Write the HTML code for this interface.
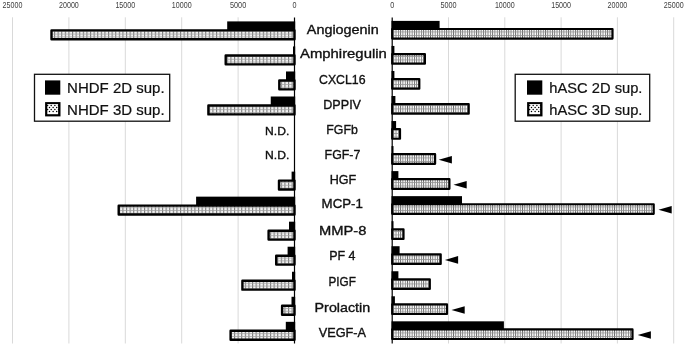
<!DOCTYPE html>
<html><head><meta charset="utf-8"><title>chart</title>
<style>
html,body{margin:0;padding:0;background:#fff;}
svg{display:block;}
text{font-family:"Liberation Sans",sans-serif;stroke:#111;stroke-width:0.35px;}
text.lg{stroke-width:0.22px;}
text.t{stroke:none;}
</style></head><body>
<svg width="685" height="346" viewBox="0 0 685 346">
<defs>
<pattern id="pl" width="3.6" height="2.8" patternUnits="userSpaceOnUse">
<rect width="3.6" height="2.8" fill="#f2f2f2"/>
<rect x="0" y="0" width="1.1" height="2.8" fill="#7a7a7a"/>
<rect x="0" y="0" width="3.6" height="0.7" fill="#a0a0a0"/>
</pattern>
<pattern id="pr" width="2.3" height="3.5" patternUnits="userSpaceOnUse">
<rect width="2.3" height="3.5" fill="#fafafa"/>
<rect x="0" y="0" width="0.85" height="3.5" fill="#6a6a6a"/>
<rect x="0" y="0" width="2.3" height="0.7" fill="#909090"/>
</pattern>
<pattern id="ps" width="3.6" height="3.6" patternUnits="userSpaceOnUse" x="0.6" y="0.9">
<rect width="3.6" height="3.6" fill="#fff"/>
<circle cx="0.9" cy="0.9" r="0.75" fill="#000"/>
<circle cx="2.7" cy="2.7" r="0.75" fill="#000"/>
</pattern>
</defs>
<rect width="685" height="346" fill="#fff"/>

<line x1="238.10" y1="17.3" x2="238.10" y2="343.5" stroke="#d9d9d9" stroke-width="1"/>
<line x1="448.50" y1="17.3" x2="448.50" y2="343.5" stroke="#d9d9d9" stroke-width="1"/>
<line x1="181.70" y1="17.3" x2="181.70" y2="343.5" stroke="#d9d9d9" stroke-width="1"/>
<line x1="504.80" y1="17.3" x2="504.80" y2="343.5" stroke="#d9d9d9" stroke-width="1"/>
<line x1="125.30" y1="17.3" x2="125.30" y2="343.5" stroke="#d9d9d9" stroke-width="1"/>
<line x1="561.10" y1="17.3" x2="561.10" y2="343.5" stroke="#d9d9d9" stroke-width="1"/>
<line x1="68.90" y1="17.3" x2="68.90" y2="343.5" stroke="#d9d9d9" stroke-width="1"/>
<line x1="617.40" y1="17.3" x2="617.40" y2="343.5" stroke="#d9d9d9" stroke-width="1"/>
<line x1="12.50" y1="17.3" x2="12.50" y2="343.5" stroke="#d9d9d9" stroke-width="1"/>
<line x1="673.70" y1="17.3" x2="673.70" y2="343.5" stroke="#d9d9d9" stroke-width="1"/>
<text x="294.50" y="7.8" font-size="8.6" class="t" fill="#404040" text-anchor="middle" textLength="4.0" lengthAdjust="spacingAndGlyphs">0</text>
<text x="392.20" y="7.8" font-size="8.6" class="t" fill="#404040" text-anchor="middle" textLength="4.0" lengthAdjust="spacingAndGlyphs">0</text>
<text x="238.10" y="7.8" font-size="8.6" class="t" fill="#404040" text-anchor="middle" textLength="16.2" lengthAdjust="spacingAndGlyphs">5000</text>
<text x="448.50" y="7.8" font-size="8.6" class="t" fill="#404040" text-anchor="middle" textLength="16.2" lengthAdjust="spacingAndGlyphs">5000</text>
<text x="181.70" y="7.8" font-size="8.6" class="t" fill="#404040" text-anchor="middle" textLength="19.8" lengthAdjust="spacingAndGlyphs">10000</text>
<text x="504.80" y="7.8" font-size="8.6" class="t" fill="#404040" text-anchor="middle" textLength="19.8" lengthAdjust="spacingAndGlyphs">10000</text>
<text x="125.30" y="7.8" font-size="8.6" class="t" fill="#404040" text-anchor="middle" textLength="19.8" lengthAdjust="spacingAndGlyphs">15000</text>
<text x="561.10" y="7.8" font-size="8.6" class="t" fill="#404040" text-anchor="middle" textLength="19.8" lengthAdjust="spacingAndGlyphs">15000</text>
<text x="68.90" y="7.8" font-size="8.6" class="t" fill="#404040" text-anchor="middle" textLength="19.8" lengthAdjust="spacingAndGlyphs">20000</text>
<text x="617.40" y="7.8" font-size="8.6" class="t" fill="#404040" text-anchor="middle" textLength="19.8" lengthAdjust="spacingAndGlyphs">20000</text>
<text x="12.50" y="7.8" font-size="8.6" class="t" fill="#404040" text-anchor="middle" textLength="19.8" lengthAdjust="spacingAndGlyphs">25000</text>
<text x="673.70" y="7.8" font-size="8.6" class="t" fill="#404040" text-anchor="middle" textLength="19.8" lengthAdjust="spacingAndGlyphs">25000</text>
<rect x="227.20" y="21.40" width="68.00" height="9.10" fill="#000"/>
<rect x="51.50" y="30.40" width="243.00" height="8.90" fill="url(#pl)" stroke="#000" stroke-width="2.4" stroke-linejoin="round"/>
<rect x="391.50" y="20.90" width="48.10" height="8.70" fill="#000"/>
<rect x="392.20" y="29.00" width="220.30" height="9.60" fill="url(#pr)" stroke="#000" stroke-width="2.2" stroke-linejoin="round"/>
<rect x="293.00" y="46.44" width="2.20" height="9.10" fill="#000"/>
<rect x="225.70" y="55.44" width="68.80" height="8.90" fill="url(#pl)" stroke="#000" stroke-width="2.4" stroke-linejoin="round"/>
<rect x="391.50" y="45.94" width="2.90" height="8.70" fill="#000"/>
<rect x="392.20" y="54.03" width="32.70" height="9.60" fill="url(#pr)" stroke="#000" stroke-width="2.2" stroke-linejoin="round"/>
<rect x="286.00" y="71.47" width="9.20" height="9.10" fill="#000"/>
<rect x="279.30" y="80.47" width="15.20" height="8.90" fill="url(#pl)" stroke="#000" stroke-width="2.4" stroke-linejoin="round"/>
<rect x="391.50" y="70.97" width="2.90" height="8.70" fill="#000"/>
<rect x="392.20" y="79.07" width="27.10" height="9.60" fill="url(#pr)" stroke="#000" stroke-width="2.2" stroke-linejoin="round"/>
<rect x="270.75" y="96.50" width="24.45" height="9.10" fill="#000"/>
<rect x="208.40" y="105.50" width="86.10" height="8.90" fill="url(#pl)" stroke="#000" stroke-width="2.4" stroke-linejoin="round"/>
<rect x="391.50" y="96.00" width="3.90" height="8.70" fill="#000"/>
<rect x="392.20" y="104.11" width="76.50" height="9.60" fill="url(#pr)" stroke="#000" stroke-width="2.2" stroke-linejoin="round"/>
<rect x="391.50" y="121.04" width="4.60" height="8.70" fill="#000"/>
<rect x="392.20" y="129.14" width="7.80" height="9.60" fill="url(#pr)" stroke="#000" stroke-width="2.2" stroke-linejoin="round"/>
<rect x="391.50" y="146.07" width="2.00" height="8.70" fill="#000"/>
<rect x="392.20" y="154.18" width="42.90" height="9.60" fill="url(#pr)" stroke="#000" stroke-width="2.2" stroke-linejoin="round"/>
<polygon points="438.7,159.8 451.9,156.0 451.9,163.6" fill="#000"/>
<rect x="291.60" y="171.61" width="3.60" height="9.10" fill="#000"/>
<rect x="279.00" y="180.61" width="15.50" height="8.90" fill="url(#pl)" stroke="#000" stroke-width="2.4" stroke-linejoin="round"/>
<rect x="391.50" y="171.11" width="6.90" height="8.70" fill="#000"/>
<rect x="392.20" y="179.21" width="57.20" height="9.60" fill="url(#pr)" stroke="#000" stroke-width="2.2" stroke-linejoin="round"/>
<polygon points="453.5,184.8 466.7,181.0 466.7,188.6" fill="#000"/>
<rect x="196.10" y="196.65" width="99.10" height="9.10" fill="#000"/>
<rect x="118.70" y="205.65" width="175.80" height="8.90" fill="url(#pl)" stroke="#000" stroke-width="2.4" stroke-linejoin="round"/>
<rect x="391.50" y="196.15" width="70.50" height="8.70" fill="#000"/>
<rect x="392.20" y="204.25" width="261.50" height="9.60" fill="url(#pr)" stroke="#000" stroke-width="2.2" stroke-linejoin="round"/>
<polygon points="658.5,209.8 671.7,206.0 671.7,213.6" fill="#000"/>
<rect x="289.00" y="221.68" width="6.20" height="9.10" fill="#000"/>
<rect x="268.60" y="230.68" width="25.90" height="8.90" fill="url(#pl)" stroke="#000" stroke-width="2.4" stroke-linejoin="round"/>
<rect x="391.50" y="221.18" width="2.00" height="8.70" fill="#000"/>
<rect x="392.20" y="229.28" width="11.30" height="9.60" fill="url(#pr)" stroke="#000" stroke-width="2.2" stroke-linejoin="round"/>
<rect x="287.60" y="246.72" width="7.60" height="9.10" fill="#000"/>
<rect x="276.20" y="255.72" width="18.30" height="8.90" fill="url(#pl)" stroke="#000" stroke-width="2.4" stroke-linejoin="round"/>
<rect x="391.50" y="246.22" width="8.10" height="8.70" fill="#000"/>
<rect x="392.20" y="254.31" width="48.50" height="9.60" fill="url(#pr)" stroke="#000" stroke-width="2.2" stroke-linejoin="round"/>
<polygon points="444.9,259.9 458.1,256.1 458.1,263.7" fill="#000"/>
<rect x="292.00" y="271.75" width="3.20" height="9.10" fill="#000"/>
<rect x="242.40" y="280.75" width="52.10" height="8.90" fill="url(#pl)" stroke="#000" stroke-width="2.4" stroke-linejoin="round"/>
<rect x="391.50" y="271.25" width="6.90" height="8.70" fill="#000"/>
<rect x="392.20" y="279.35" width="37.60" height="9.60" fill="url(#pr)" stroke="#000" stroke-width="2.2" stroke-linejoin="round"/>
<rect x="291.50" y="296.78" width="3.70" height="9.10" fill="#000"/>
<rect x="282.10" y="305.78" width="12.40" height="8.90" fill="url(#pl)" stroke="#000" stroke-width="2.4" stroke-linejoin="round"/>
<rect x="391.50" y="296.28" width="3.40" height="8.70" fill="#000"/>
<rect x="392.20" y="304.38" width="54.80" height="9.60" fill="url(#pr)" stroke="#000" stroke-width="2.2" stroke-linejoin="round"/>
<polygon points="451.5,310.0 464.7,306.2 464.7,313.8" fill="#000"/>
<rect x="285.80" y="321.82" width="9.40" height="9.10" fill="#000"/>
<rect x="230.60" y="330.82" width="63.90" height="8.90" fill="url(#pl)" stroke="#000" stroke-width="2.4" stroke-linejoin="round"/>
<rect x="391.50" y="321.32" width="112.40" height="8.70" fill="#000"/>
<rect x="392.20" y="329.42" width="240.30" height="9.60" fill="url(#pr)" stroke="#000" stroke-width="2.2" stroke-linejoin="round"/>
<polygon points="637.7,335.0 650.9,331.2 650.9,338.8" fill="#000"/>
<line x1="294.50" y1="17.5" x2="294.50" y2="343.5" stroke="#000" stroke-width="1.2"/>
<line x1="392.20" y1="17.5" x2="392.20" y2="343.5" stroke="#000" stroke-width="1.2"/>
<text x="342.80" y="34.05" font-size="12.9" fill="#111" text-anchor="middle" textLength="72.0" lengthAdjust="spacingAndGlyphs">Angiogenin</text>
<text x="343.40" y="57.80" font-size="12.9" fill="#111" text-anchor="middle" textLength="86.8" lengthAdjust="spacingAndGlyphs">Amphiregulin</text>
<text x="342.25" y="83.80" font-size="12.9" fill="#111" text-anchor="middle" textLength="46.5" lengthAdjust="spacingAndGlyphs">CXCL16</text>
<text x="342.15" y="108.60" font-size="12.9" fill="#111" text-anchor="middle" textLength="37.7" lengthAdjust="spacingAndGlyphs">DPPIV</text>
<text x="342.05" y="134.05" font-size="12.9" fill="#111" text-anchor="middle" textLength="31.5" lengthAdjust="spacingAndGlyphs">FGFb</text>
<text x="342.45" y="158.60" font-size="12.9" fill="#111" text-anchor="middle" textLength="35.7" lengthAdjust="spacingAndGlyphs">FGF-7</text>
<text x="342.95" y="183.80" font-size="12.9" fill="#111" text-anchor="middle" textLength="26.5" lengthAdjust="spacingAndGlyphs">HGF</text>
<text x="342.25" y="208.00" font-size="12.9" fill="#111" text-anchor="middle" textLength="41.3" lengthAdjust="spacingAndGlyphs">MCP-1</text>
<text x="342.70" y="234.90" font-size="12.9" fill="#111" text-anchor="middle" textLength="47.4" lengthAdjust="spacingAndGlyphs">MMP-8</text>
<text x="342.35" y="260.30" font-size="12.9" fill="#111" text-anchor="middle" textLength="26.3" lengthAdjust="spacingAndGlyphs">PF 4</text>
<text x="342.20" y="286.40" font-size="12.9" fill="#111" text-anchor="middle" textLength="27.4" lengthAdjust="spacingAndGlyphs">PIGF</text>
<text x="342.40" y="312.20" font-size="12.9" fill="#111" text-anchor="middle" textLength="55.6" lengthAdjust="spacingAndGlyphs">Prolactin</text>
<text x="342.40" y="337.00" font-size="12.9" fill="#111" text-anchor="middle" textLength="47.4" lengthAdjust="spacingAndGlyphs">VEGF-A</text>
<text x="277.2" y="134.7" font-size="10.9" fill="#111" text-anchor="middle" textLength="24.2" lengthAdjust="spacingAndGlyphs">N.D.</text>
<text x="277.2" y="158.8" font-size="10.9" fill="#111" text-anchor="middle" textLength="24.2" lengthAdjust="spacingAndGlyphs">N.D.</text>
<rect x="34.5" y="74.3" width="135.20" height="46.9" fill="#fff" stroke="#111" stroke-width="1.3"/>
<rect x="45.0" y="80.4" width="15.3" height="14.3" fill="#000"/>
<rect x="45.10" y="102.1" width="15.4" height="14.3" fill="#000"/>
<rect x="47.30" y="104.1" width="10.8" height="10.1" fill="#fff"/>
<circle cx="47.60" cy="105.50" r="0.75" fill="#000"/>
<circle cx="51.20" cy="105.50" r="0.75" fill="#000"/>
<circle cx="54.90" cy="105.50" r="0.75" fill="#000"/>
<circle cx="58.50" cy="105.50" r="0.75" fill="#000"/>
<circle cx="49.50" cy="107.50" r="0.75" fill="#000"/>
<circle cx="53.10" cy="107.50" r="0.75" fill="#000"/>
<circle cx="56.70" cy="107.50" r="0.75" fill="#000"/>
<circle cx="47.60" cy="109.50" r="0.75" fill="#000"/>
<circle cx="51.20" cy="109.50" r="0.75" fill="#000"/>
<circle cx="54.90" cy="109.50" r="0.75" fill="#000"/>
<circle cx="58.50" cy="109.50" r="0.75" fill="#000"/>
<circle cx="49.50" cy="111.50" r="0.75" fill="#000"/>
<circle cx="53.10" cy="111.50" r="0.75" fill="#000"/>
<circle cx="56.70" cy="111.50" r="0.75" fill="#000"/>
<text class="lg" x="67.1" y="93" font-size="15.1" fill="#111" textLength="97.5" lengthAdjust="spacingAndGlyphs">NHDF 2D sup.</text>
<text class="lg" x="67.1" y="114.5" font-size="15.1" fill="#111" textLength="97.5" lengthAdjust="spacingAndGlyphs">NHDF 3D sup.</text>
<rect x="515.2" y="74.3" width="134.50" height="46.9" fill="#fff" stroke="#111" stroke-width="1.3"/>
<rect x="527.0" y="80.4" width="15.3" height="14.3" fill="#000"/>
<rect x="527.10" y="102.1" width="15.4" height="14.3" fill="#000"/>
<rect x="529.30" y="104.1" width="10.8" height="10.1" fill="#fff"/>
<circle cx="529.60" cy="105.50" r="0.75" fill="#000"/>
<circle cx="533.20" cy="105.50" r="0.75" fill="#000"/>
<circle cx="536.90" cy="105.50" r="0.75" fill="#000"/>
<circle cx="540.50" cy="105.50" r="0.75" fill="#000"/>
<circle cx="531.50" cy="107.50" r="0.75" fill="#000"/>
<circle cx="535.10" cy="107.50" r="0.75" fill="#000"/>
<circle cx="538.70" cy="107.50" r="0.75" fill="#000"/>
<circle cx="529.60" cy="109.50" r="0.75" fill="#000"/>
<circle cx="533.20" cy="109.50" r="0.75" fill="#000"/>
<circle cx="536.90" cy="109.50" r="0.75" fill="#000"/>
<circle cx="540.50" cy="109.50" r="0.75" fill="#000"/>
<circle cx="531.50" cy="111.50" r="0.75" fill="#000"/>
<circle cx="535.10" cy="111.50" r="0.75" fill="#000"/>
<circle cx="538.70" cy="111.50" r="0.75" fill="#000"/>
<text class="lg" x="549.3" y="93" font-size="15.1" fill="#111" textLength="93.1" lengthAdjust="spacingAndGlyphs">hASC 2D sup.</text>
<text class="lg" x="549.3" y="114.5" font-size="15.1" fill="#111" textLength="93.1" lengthAdjust="spacingAndGlyphs">hASC 3D sup.</text>
</svg></body></html>
